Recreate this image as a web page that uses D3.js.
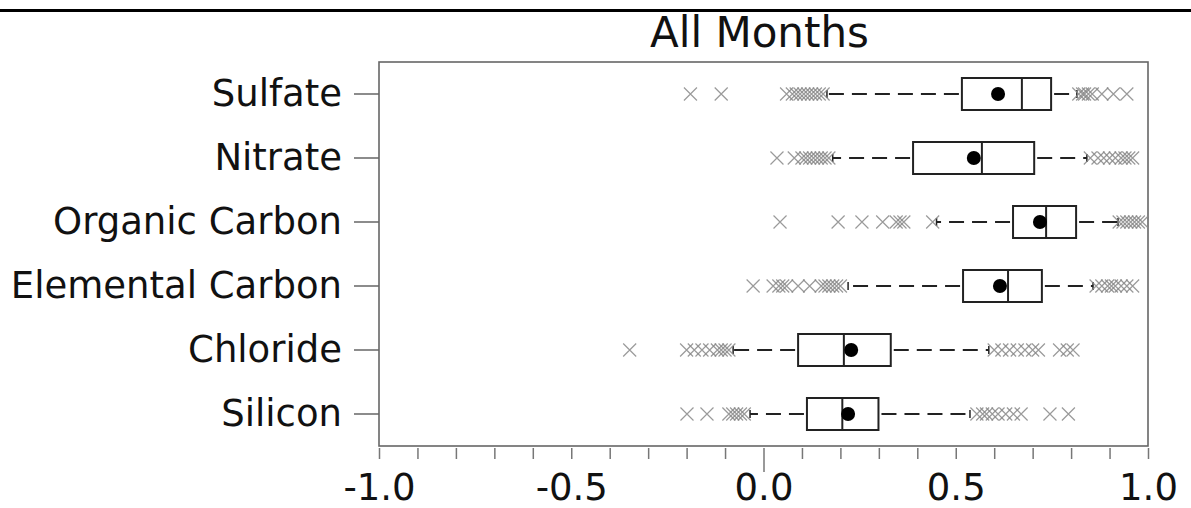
<!DOCTYPE html>
<html>
<head>
<meta charset="utf-8">
<script src="https://cdn.jsdelivr.net/npm/d3@7"></script>
<style>
  html, body { margin: 0; padding: 0; background: #fff; }
  svg { display: block; font-family: "DejaVu Sans", Verdana, sans-serif; }
</style>
</head>
<body>
<svg id="chart" width="1191" height="508"></svg>
<script>
// ---- data ----
const title = "All Months";
const categories = ["Sulfate", "Nitrate", "Organic Carbon", "Elemental Carbon", "Chloride", "Silicon"];
const q1      = [0.516, 0.389, 0.649, 0.519, 0.090, 0.113];
const median  = [0.672, 0.568, 0.735, 0.636, 0.209, 0.205];
const q3      = [0.748, 0.704, 0.813, 0.724, 0.331, 0.299];
const mean    = [0.610, 0.547, 0.719, 0.615, 0.228, 0.220];
const whiskerLow  = [0.165, 0.180, 0.450, 0.220, -0.079, -0.035];
const whiskerHigh = [0.815, 0.841, 0.922, 0.857, 0.586, 0.537];
const outliers = [
  [-0.19, -0.11, 0.06, 0.075, 0.085, 0.095, 0.105, 0.115, 0.125, 0.135, 0.145, 0.155,
   0.82, 0.83, 0.835, 0.845, 0.855, 0.88, 0.91, 0.945],
  [0.035, 0.08, 0.10, 0.11, 0.12, 0.13, 0.14, 0.15, 0.16, 0.17,
   0.85, 0.87, 0.885, 0.90, 0.915, 0.93, 0.94, 0.95, 0.96],
  [0.043, 0.194, 0.256, 0.31, 0.345, 0.355, 0.365, 0.44,
   0.925, 0.935, 0.945, 0.955, 0.965, 0.975, 0.985],
  [-0.027, 0.025, 0.04, 0.05, 0.06, 0.09, 0.12, 0.15, 0.16, 0.17, 0.18, 0.19, 0.20,
   0.865, 0.88, 0.895, 0.905, 0.915, 0.93, 0.945, 0.96],
  [-0.348, -0.20, -0.18, -0.16, -0.14, -0.12, -0.11, -0.10, -0.09,
   0.60, 0.62, 0.64, 0.66, 0.68, 0.70, 0.715, 0.77, 0.79, 0.805],
  [-0.199, -0.147, -0.09, -0.08, -0.07, -0.06, -0.05,
   0.555, 0.57, 0.58, 0.595, 0.61, 0.63, 0.65, 0.67, 0.745, 0.793]
];
const xTickValues = [-1.0, -0.9, -0.8, -0.7, -0.6, -0.5, -0.4, -0.3, -0.2, -0.1, 0.0, 0.1, 0.2, 0.3, 0.4, 0.5, 0.6, 0.7, 0.8, 0.9, 1.0];
const xLabelValues = [-1.0, -0.5, 0.0, 0.5, 1.0];

// ---- layout ----
const svg = d3.select("#chart");
const L = 379, R = 1148, T = 62, B = 446;

const x = d3.scaleLinear().domain([-1, 1]).range([L, R]);
const y = d3.scaleBand().domain(categories).range([T, B]).padding(0);

// top rule
svg.append("line").attr("x1", 0).attr("x2", 1191).attr("y1", 10.5).attr("y2", 10.5)
  .attr("stroke", "#000").attr("stroke-width", 3);

// title
svg.append("text").attr("x", (L + R) / 2 - 4).attr("y", 47)
  .attr("text-anchor", "middle").attr("font-size", 42).attr("fill", "#111").text(title);

// frame
svg.append("rect").attr("x", L).attr("y", T).attr("width", R - L).attr("height", B - T)
  .attr("fill", "none").attr("stroke", "#666").attr("stroke-width", 1.6);

// y axis
const yAxis = d3.axisLeft(y).tickSize(25).tickPadding(12);
const gy = svg.append("g").attr("transform", `translate(${L},0)`).call(yAxis);
gy.select(".domain").remove();
gy.selectAll(".tick line").attr("stroke", "#666").attr("stroke-width", 1.5);
gy.selectAll(".tick text").attr("font-size", 37).attr("fill", "#111")
  .attr("font-family", "'DejaVu Sans', Verdana, sans-serif");

// x axis
const fmt = v => (v < 0 ? "-" : "") + Math.abs(v).toFixed(1);
const xAxis = d3.axisBottom(x).tickValues(xTickValues).tickSizeInner(11).tickSizeOuter(0)
  .tickFormat(v => xLabelValues.some(l => Math.abs(l - v) < 1e-9) ? fmt(v) : "");
const gx = svg.append("g").attr("transform", `translate(0,${B + 2})`).call(xAxis);
gx.select(".domain").remove();
gx.selectAll(".tick line").attr("stroke", "#777").attr("stroke-width", 1.5)
  .attr("y2", d => Math.abs(d) < 1e-9 ? 24 : 11);
gx.selectAll(".tick text").attr("font-size", 37).attr("fill", "#111")
  .attr("y", 52).attr("dy", 0)
  .attr("font-family", "'DejaVu Sans', Verdana, sans-serif");

// box plots
const bh = y.bandwidth() * 0.5;
const rows = svg.append("g").selectAll("g").data(categories).join("g")
  .attr("transform", d => `translate(0,${y(d) + y.bandwidth() / 2})`);

// whiskers (dash pattern starts at the box)
rows.append("line")
  .attr("x1", (d, i) => x(q1[i]) - 3).attr("x2", (d, i) => x(whiskerLow[i]))
  .attr("y1", 0).attr("y2", 0)
  .attr("stroke", "#222").attr("stroke-width", 2).attr("stroke-dasharray", "15,8");
rows.append("line")
  .attr("x1", (d, i) => x(q3[i]) + 3).attr("x2", (d, i) => x(whiskerHigh[i]))
  .attr("y1", 0).attr("y2", 0)
  .attr("stroke", "#222").attr("stroke-width", 2).attr("stroke-dasharray", "15,8");
// whisker caps
rows.each(function (d, i) {
  const g = d3.select(this);
  [whiskerLow[i], whiskerHigh[i]].forEach(v => {
    g.append("line").attr("x1", x(v)).attr("x2", x(v)).attr("y1", -4).attr("y2", 4)
      .attr("stroke", "#222").attr("stroke-width", 1.5);
  });
});

// outliers (x markers)
const s = 6.5;
rows.each(function (d, i) {
  const g = d3.select(this);
  g.selectAll("path.out").data(outliers[i]).join("path").attr("class", "out")
    .attr("d", v => `M${x(v) - s},${-s}L${x(v) + s},${s}M${x(v) - s},${s}L${x(v) + s},${-s}`)
    .attr("stroke", "#888").attr("stroke-width", 1.2).attr("fill", "none")
    .attr("stroke-opacity", 0.85);
});

// boxes
rows.append("rect")
  .attr("x", (d, i) => x(q1[i])).attr("width", (d, i) => x(q3[i]) - x(q1[i]))
  .attr("y", -bh / 2).attr("height", bh)
  .attr("fill", "#fff").attr("stroke", "#222").attr("stroke-width", 2);
rows.append("line")
  .attr("x1", (d, i) => x(median[i])).attr("x2", (d, i) => x(median[i]))
  .attr("y1", -bh / 2).attr("y2", bh / 2)
  .attr("stroke", "#222").attr("stroke-width", 2);
rows.append("circle")
  .attr("cx", (d, i) => x(mean[i])).attr("cy", 0).attr("r", 7)
  .attr("fill", "#000");
</script>
</body>
</html>
